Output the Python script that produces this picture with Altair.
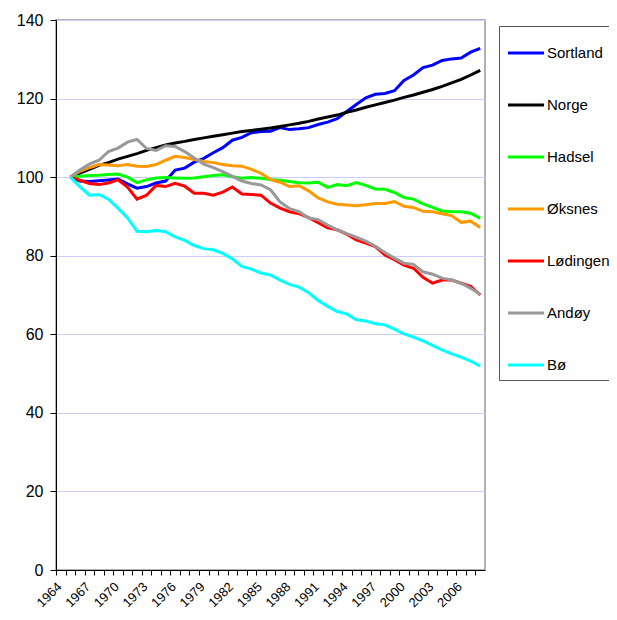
import altair as alt
import pandas as pd

axis_years = list(range(1964, 2009))
years = list(range(1965, 2009))

names = ["Sortland", "Norge", "Hadsel", "Øksnes", "Lødingen", "Andøy", "Bø"]
colors = ["#0000ff", "#000000", "#00ff00", "#ff9900", "#ff0000", "#999999", "#00ffff"]

sortland = [100, 99.0, 98.9, 99.1, 99.3, 99.5, 98.3, 97.2, 97.6, 98.5,
            99.0, 101.8, 102.3, 103.8, 104.8, 106.2, 107.5, 109.4, 110.1, 111.3,
            111.6, 111.7, 112.6, 112.1, 112.3, 112.6, 113.4, 114.0, 114.9, 116.7,
            118.5, 120.2, 121.1, 121.3, 122.0, 124.6, 126.0, 127.9, 128.5, 129.7,
            130.1, 130.3, 131.8, 132.8]
norge = [100.0, 101.0, 102.0, 103.0, 103.7, 104.6, 105.3, 106.0, 106.8, 107.5,
         108.2, 108.7, 109.1, 109.6, 110.0, 110.4, 110.8, 111.2, 111.6, 111.9,
         112.2, 112.5, 112.9, 113.3, 113.7, 114.2, 114.8, 115.3, 115.8, 116.5,
         117.1, 117.8, 118.4, 119.0, 119.6, 120.3, 120.9, 121.6, 122.3, 123.1,
         124.0, 124.9, 126.0, 127.2]
hadsel = [100, 100.2, 100.4, 100.5, 100.7, 100.8, 100.0, 98.6, 99.3, 99.8,
          99.9, 99.8, 99.7, 99.8, 100.1, 100.4, 100.6, 100.1, 99.7, 99.9,
          99.7, 99.4, 99.2, 98.9, 98.6, 98.5, 98.7, 97.4, 98.1, 97.8,
          98.6, 97.9, 97.0, 96.9, 96.1, 94.8, 94.4, 93.2, 92.3, 91.4,
          91.2, 91.2, 90.8, 89.5]
oksnes = [100, 101.5, 102.4, 103.2, 103.1, 102.9, 103.2, 102.8, 102.7, 103.2,
          104.3, 105.3, 105.0, 104.5, 104.0, 103.7, 103.2, 102.9, 102.8, 102.0,
          101.0, 99.4, 98.7, 97.6, 97.8, 96.5, 94.7, 93.7, 93.1, 92.9,
          92.7, 93.0, 93.3, 93.3, 93.8, 92.6, 92.3, 91.3, 91.2, 90.7,
          90.2, 88.5, 88.8, 87.2]
lodingen = [100, 99.2, 98.4, 98.1, 98.5, 99.3, 97.5, 94.4, 95.4, 97.9,
            97.6, 98.4, 97.7, 95.9, 95.9, 95.4, 96.2, 97.5, 95.7, 95.6,
            95.4, 93.4, 92.1, 91.2, 90.7, 89.7, 88.4, 87.1, 86.6, 85.5,
            84.0, 83.2, 82.3, 80.2, 79.0, 77.6, 76.8, 74.5, 73.0, 73.8,
            73.8, 73.0, 72.2, 70.0]
andoy = [100, 101.8, 103.3, 104.3, 106.5, 107.4, 108.9, 109.6, 107.3, 106.8,
         108.0, 107.8, 106.5, 104.9, 103.3, 102.4, 101.4, 100.2, 99.0, 98.4,
         98.0, 96.8, 93.7, 92.0, 91.2, 89.6, 89.2, 87.8, 86.6, 85.6,
         84.7, 83.7, 82.4, 80.8, 79.4, 78.1, 77.8, 75.9, 75.3, 74.3,
         73.8, 73.0, 71.7, 70.2]
bo = [100, 97.6, 95.4, 95.6, 94.4, 92.1, 89.6, 86.2, 86.1, 86.4,
      86.1, 84.8, 83.9, 82.6, 81.8, 81.5, 80.6, 79.2, 77.3, 76.6,
      75.6, 75.1, 73.8, 72.7, 72.0, 70.6, 68.6, 67.1, 65.8, 65.2,
      63.7, 63.4, 62.7, 62.4, 61.3, 60.1, 59.3, 58.3, 57.2, 56.0,
      55.0, 54.2, 53.2, 51.9]

series = [sortland, norge, hadsel, oksnes, lodingen, andoy, bo]
rows = []
for i, (n, vals) in enumerate(zip(names, series)):
    for y, v in zip(years, vals):
        rows.append({"year": y, "value": v, "series": n, "idx": i})
df = pd.DataFrame(rows)

W, H = 429, 550
step = W / len(axis_years)
FONT = "Liberation Sans"

chart = alt.Chart(df).mark_line(strokeWidth=3).encode(
    x=alt.X("year:O",
            scale=alt.Scale(type="point", domain=axis_years, padding=0.5),
            axis=alt.Axis(title=None, values=axis_years,
                          labelExpr="(datum.value - 1964) % 3 == 0 ? datum.label : ''",
                          labelAngle=-45, labelAlign="right", labelBaseline="top",
                          tickOffset=-step / 2, labelOffset=-1,
                          tickSize=5, tickColor="#000", domainColor="#000",
                          labelPadding=5, labelFontSize=13, labelFont=FONT,
                          labelColor="#000", grid=False, labelOverlap=False)),
    y=alt.Y("value:Q",
            scale=alt.Scale(domain=[0, 140], nice=False, zero=True),
            axis=alt.Axis(title=None, values=list(range(0, 141, 20)),
                          tickSize=6, tickColor="#000", domainColor="#000",
                          labelPadding=7, labelFontSize=16, labelFont=FONT,
                          labelColor="#000", gridColor="#ccccff", grid=True)),
    color=alt.Color("series:N",
                    scale=alt.Scale(domain=names, range=colors),
                    legend=alt.Legend(title=None, orient="none", legendX=443, legendY=6,
                                      symbolType="stroke", symbolSize=1300,
                                      symbolStrokeWidth=3, labelFontSize=15,
                                      labelFont=FONT, labelColor="#000", labelOffset=1,
                                      rowPadding=24, padding=7, strokeColor="#555",
                                      fillColor="#fff")),
    detail="series:N",
    order="year:O",
).properties(
    width=W, height=H,
    autosize=alt.AutoSizeParams(type="none"),
    padding={"left": 48, "top": 12, "right": 124, "bottom": 42},
).configure_view(stroke="#999999", strokeWidth=1.5)

chart.save("out.html", embed_options={"renderer": "svg", "actions": False})
